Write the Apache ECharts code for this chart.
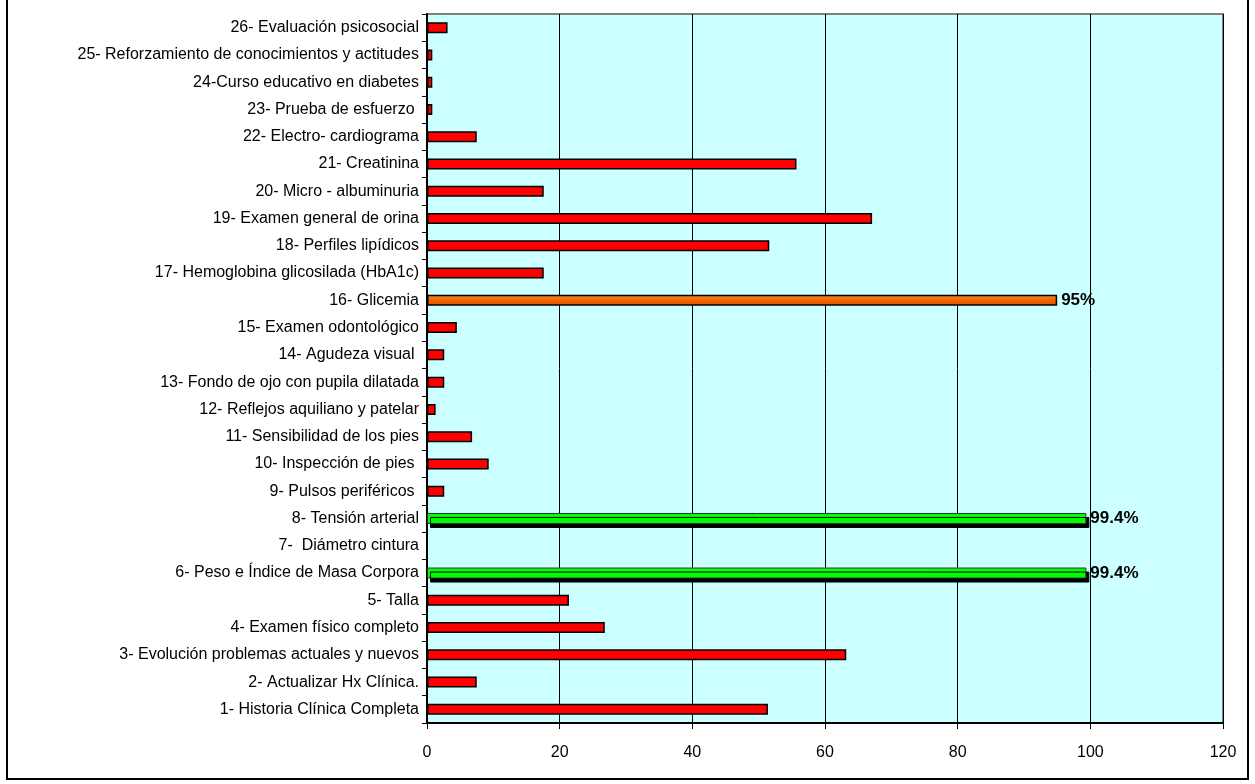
<!DOCTYPE html>
<html>
<head>
<meta charset="utf-8">
<script src="https://cdn.jsdelivr.net/npm/echarts@6/dist/echarts.min.js"></script>
<style>
  html, body { margin: 0; padding: 0; background: #fff; }
  #chart { width: 1255px; height: 784px; }
</style>
</head>
<body>
<div id="chart"></div>
<script>
// categorias, de abajo hacia arriba
const categories = [
  '1- Historia Clínica Completa',
  '2- Actualizar Hx Clínica.',
  '3- Evolución problemas actuales y nuevos',
  '4- Examen físico completo',
  '5- Talla',
  '6- Peso e Índice de Masa Corpora',
  '7-  Diámetro cintura',
  '8- Tensión arterial',
  '9- Pulsos periféricos ',
  '10- Inspección de pies ',
  '11- Sensibilidad de los pies',
  '12- Reflejos aquiliano y patelar',
  '13- Fondo de ojo con pupila dilatada',
  '14- Agudeza visual ',
  '15- Examen odontológico',
  '16- Glicemia',
  '17- Hemoglobina glicosilada (HbA1c)',
  '18- Perfiles lipídicos',
  '19- Examen general de orina',
  '20- Micro - albuminuria',
  '21- Creatinina',
  '22- Electro- cardiograma',
  '23- Prueba de esfuerzo ',
  '24-Curso educativo en diabetes',
  '25- Reforzamiento de conocimientos y actitudes',
  '26- Evaluación psicosocial'
]

const values = [
  51.4, 7.5, 63.2, 26.8, 21.4, 99.4, 0, 99.4, 2.6, 9.3,
  6.8, 1.3, 2.6, 2.6, 4.5, 95, 17.6, 51.6, 67.1, 17.6,
  55.7, 7.5, 0.8, 0.8, 0.8, 3.1
]

// etiquetas visibles sobre algunas barras
const valueLabels = {
  '6- Peso e Índice de Masa Corpora': '99.4%',
  '8- Tensión arterial': '99.4%',
  '16- Glicemia': '95%'
}

const xTicks = [0, 20, 40, 60, 80, 100, 120]

const chart = echarts.init(document.getElementById('chart'))

function itemFor(name, v) {
  const item = { value: v }
  if (valueLabels[name] && valueLabels[name].startsWith('99')) {
    item.itemStyle = {
      color: '#00FF00',
      borderColor: '#333',
      borderWidth: 1,
      shadowColor: '#000',
      shadowBlur: 0,
      shadowOffsetX: 3,
      shadowOffsetY: 4
    }
  } else if (name === '16- Glicemia') {
    item.itemStyle = {
      color: new echarts.graphic.LinearGradient(0, 0, 0, 1, [
        { offset: 0, color: '#FF8A2A' },
        { offset: 0.5, color: '#F06400' },
        { offset: 1, color: '#D85500' }
      ])
    }
  }
  if (valueLabels[name]) {
    item.label = {
      show: true,
      position: 'right',
      distance: 4,
      formatter: valueLabels[name],
      fontFamily: 'Liberation Sans',
      fontWeight: 'bold',
      fontSize: 17,
      color: '#000'
    }
  }
  return item
}

const option = {
  backgroundColor: '#fff',
  animation: false,
  textStyle: { fontFamily: 'Liberation Sans' },
  graphic: [
    {
      type: 'rect',
      shape: { x: 7, y: -5, width: 1241, height: 784 },
      style: { fill: 'none', stroke: '#000', lineWidth: 2 },
      z: 100
    }
  ],
  grid: {
    left: 427,
    right: 32,
    top: 14,
    bottom: 61,
    show: true,
    backgroundColor: '#CCFFFF',
    borderColor: '#808080',
    borderWidth: 2
  },
  xAxis: {
    type: 'value',
    min: xTicks[0],
    max: xTicks[xTicks.length - 1],
    interval: 20,
    axisLine: { show: true, onZero: false, lineStyle: { color: '#000', width: 2 } },
    axisTick: { show: true, length: 6, lineStyle: { color: '#000' } },
    axisLabel: { color: '#000', fontSize: 16, margin: 22, fontFamily: 'Liberation Sans' },
    splitLine: {
      show: true,
      lineStyle: { color: '#000', width: 1 }
    }
  },
  yAxis: {
    type: 'category',
    data: categories,
    axisLine: { show: true, lineStyle: { color: '#000', width: 2 } },
    axisTick: { show: true, length: 5, inside: false, alignWithLabel: false, lineStyle: { color: '#000' } },
    axisLabel: {
      color: '#000',
      fontSize: 16,
      margin: 8,
      interval: 0,
      fontFamily: 'Liberation Sans'
    },
    splitLine: { show: false }
  },
  series: [
    {
      type: 'bar',
      barWidth: 11,
      itemStyle: { color: '#FF0000', borderColor: '#000', borderWidth: 1.5 },
      data: categories.map((c, i) => itemFor(c, values[i]))
    }
  ]
}

chart.setOption(option)
</script>
</body>
</html>
